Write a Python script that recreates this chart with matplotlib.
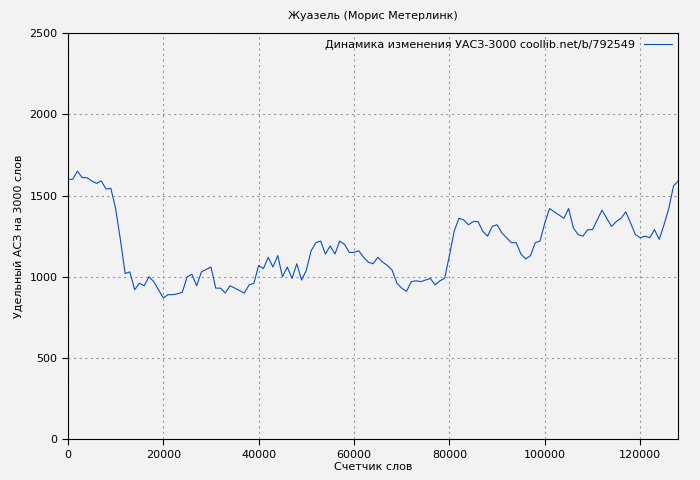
import matplotlib
matplotlib.use("Agg")
import matplotlib.pyplot as plt

words = list(range(0, 129000, 1000))
values = [1600,1600,1650,1610,1610,1590,1575,1590,1540,1545,1420,1230,1020,1030,920,960,945,1000,970,920,
          870,890,890,895,905,1000,1015,945,1030,1045,1060,930,930,900,945,930,915,900,950,960,
          1070,1050,1120,1060,1130,1000,1060,990,1080,980,1040,1160,1210,1220,1140,1190,1140,1220,1200,1150,
          1150,1160,1120,1090,1080,1120,1090,1070,1040,960,930,910,970,975,970,980,990,950,975,990,
          1130,1280,1360,1350,1320,1340,1340,1280,1250,1310,1320,1270,1240,1210,1210,1140,1110,1130,1210,1220,
          1330,1420,1400,1380,1360,1420,1300,1260,1250,1290,1290,1350,1410,1360,1310,1340,1360,1400,1330,1260,
          1240,1250,1240,1290,1230,1320,1420,1560,1590]
words = words[:len(values)]

plt.rcParams['font.family'] = ['DejaVu Sans']
fig = plt.figure(figsize=(7, 4.8), dpi=100, facecolor='#f2f2f2')
ax = fig.add_axes([0.097, 0.085, 0.872, 0.846])
ax.set_facecolor('#f2f2f2')
ax.plot(words, values, color='#0a4fbf', lw=0.8, label='Динамика изменения УАСЗ-3000 coollib.net/b/792549')
ax.set_xlim(0, words[-1])
ax.set_ylim(0, 2500)
ax.set_xticks(range(0, 120001, 20000))
ax.set_yticks(range(0, 2501, 500))
ax.grid(True, color='#999999', ls=(0, (2, 3)), lw=0.8)
ax.tick_params(labelsize=8, length=4, direction='out')
ax.set_title('Жуазель (Морис Метерлинк)', fontsize=8, pad=10)
ax.set_xlabel('Счетчик слов', fontsize=8, labelpad=2)
ax.set_ylabel('Удельный АСЗ на 3000 слов', fontsize=8)
ax.legend(loc='upper right', frameon=False, fontsize=8, markerfirst=False, handlelength=2.5, borderaxespad=0.2)
fig.savefig('out.png', dpi=100, facecolor='#f2f2f2')
